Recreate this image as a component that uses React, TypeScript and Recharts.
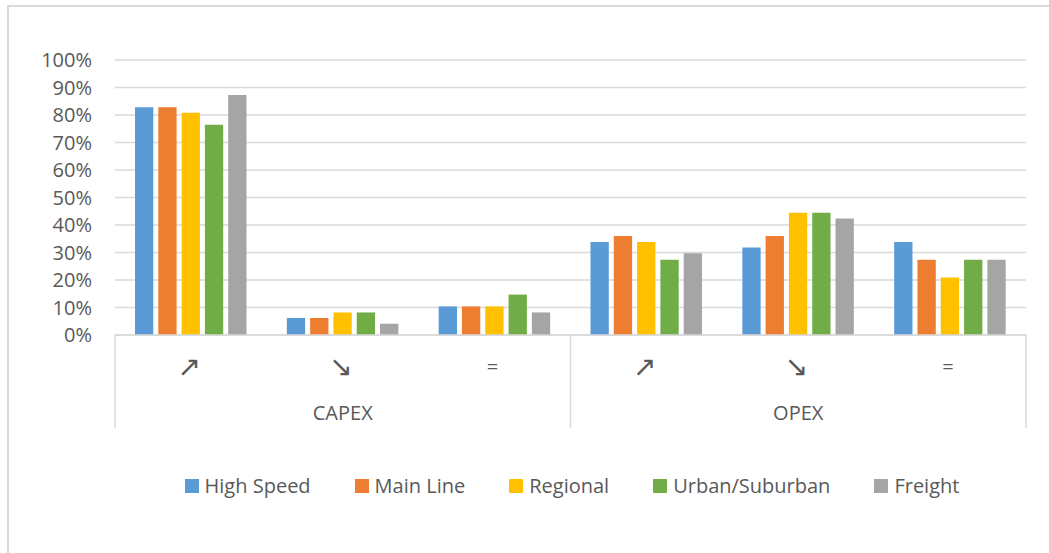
import { BarChart, Bar, XAxis, YAxis, CartesianGrid, Legend } from 'recharts'

// category labels (two-level axis: trend inside group)
const trends = ['↗', '↘', '=', '↗', '↘', '=']
const groups = ['CAPEX', 'CAPEX', 'CAPEX', 'OPEX', 'OPEX', 'OPEX']

// share of answers per rail segment
const highSpeed = [0.828, 0.062, 0.104, 0.338, 0.318, 0.338]
const mainLine = [0.828, 0.062, 0.104, 0.36, 0.36, 0.274]
const regional = [0.808, 0.082, 0.104, 0.338, 0.445, 0.209]
const urbanSuburban = [0.765, 0.082, 0.147, 0.274, 0.445, 0.274]
const freight = [0.873, 0.041, 0.082, 0.297, 0.424, 0.274]

const yTicks = [0, 0.1, 0.2, 0.3, 0.4, 0.5, 0.6, 0.7, 0.8, 0.9, 1]

const SERIES = [
  { key: 'highSpeed', name: 'High Speed', color: '#5B9BD5', values: highSpeed },
  { key: 'mainLine', name: 'Main Line', color: '#ED7D31', values: mainLine },
  { key: 'regional', name: 'Regional', color: '#FFC000', values: regional },
  { key: 'urbanSuburban', name: 'Urban/Suburban', color: '#70AD47', values: urbanSuburban },
  { key: 'freight', name: 'Freight', color: '#A5A5A5', values: freight },
]

const data = trends.map((trend, i) => {
  const row: Record<string, string | number> = { trend, group: groups[i] }
  for (const s of SERIES) row[s.key] = s.values[i]
  return row
})

const FONT = '"Open Sans", "DejaVu Sans", sans-serif'
const TEXT = '#595959'
const GRID = '#d9d9d9'
const AXIS_HEIGHT = 93

function CategoryTick(props: any) {
  const { x, y, payload } = props
  const index: number = payload.index
  const half: number = payload.offset ?? 76
  const isArrow = payload.value !== '='
  const groupStart = index === 0 || groups[index - 1] !== groups[index]
  const groupEnd = index === groups.length - 1
  const groupMiddle = index % 3 === 1
  return (
    <g>
      <text
        x={x - 2}
        y={y + 31}
        textAnchor="middle"
        dominantBaseline="central"
        fontSize={isArrow ? 28 : 20}
        fill={TEXT}
        fontFamily={isArrow ? '"DejaVu Sans", sans-serif' : FONT}
      >
        {payload.value}
      </text>
      {groupMiddle && (
        <text
          x={x}
          y={y + 77}
          textAnchor="middle"
          dominantBaseline="central"
          fontSize={20}
          fill={TEXT}
          fontFamily={FONT}
        >
          {groups[index]}
        </text>
      )}
      {groupStart && (
        <line x1={x - half} x2={x - half} y1={y} y2={y + AXIS_HEIGHT} stroke={GRID} strokeWidth={1.5} />
      )}
      {groupEnd && (
        <line x1={x + half} x2={x + half} y1={y} y2={y + AXIS_HEIGHT} stroke={GRID} strokeWidth={1.5} />
      )}
    </g>
  )
}

function LegendContent() {
  return (
    <div
      style={{
        display: 'flex',
        justifyContent: 'center',
        gap: 44,
        fontFamily: FONT,
        fontSize: 20,
        lineHeight: '27px',
        color: TEXT,
        whiteSpace: 'nowrap',
      }}
    >
      {SERIES.map((s) => (
        <div key={s.key} style={{ display: 'flex', alignItems: 'center', gap: 6 }}>
          <span style={{ display: 'inline-block', width: 14, height: 14, background: s.color }} />
          <span>{s.name}</span>
        </div>
      ))}
    </div>
  )
}

export default function App() {
  return (
    <div
      style={{
        position: 'absolute',
        left: 0,
        top: 0,
        width: 1049,
        height: 553,
        background: '#fff',
        overflow: 'hidden',
      }}
    >
      <div
        style={{
          position: 'absolute',
          left: 7,
          top: 5,
          width: 1042,
          height: 548,
          borderTop: `2px solid ${GRID}`,
          borderLeft: `2px solid ${GRID}`,
          boxSizing: 'border-box',
        }}
      />
      <div style={{ position: 'absolute', left: 0, top: 0 }}>
        <BarChart
          width={1049}
          height={553}
          data={data}
          margin={{ top: 60, right: 23, left: 0, bottom: 125 }}
          barSize={18.3}
          barGap={5}
        >
          <CartesianGrid vertical={false} stroke={GRID} strokeWidth={1.5} />
          <YAxis
            width={115}
            domain={[0, 1]}
            ticks={yTicks}
            tickFormatter={(v: number) => `${Math.round(v * 100)}%`}
            axisLine={false}
            tickLine={false}
            tickSize={0}
            tickMargin={23}
            tick={{ fontSize: 20, fill: TEXT, fontFamily: FONT }}
            interval={0}
          />
          <XAxis
            dataKey="trend"
            height={AXIS_HEIGHT}
            interval={0}
            tickLine={false}
            tickSize={0}
            tickMargin={0}
            axisLine={{ stroke: GRID, strokeWidth: 1.5 }}
            tick={<CategoryTick />}
          />
          <Legend
            layout="horizontal"
            verticalAlign="middle"
            align="center"
            content={<LegendContent />}
            wrapperStyle={{ top: 472, left: 115, width: 914 }}
          />
          {SERIES.map((s) => (
            <Bar key={s.key} dataKey={s.key} name={s.name} fill={s.color} isAnimationActive={false} />
          ))}
        </BarChart>
      </div>
    </div>
  )
}
